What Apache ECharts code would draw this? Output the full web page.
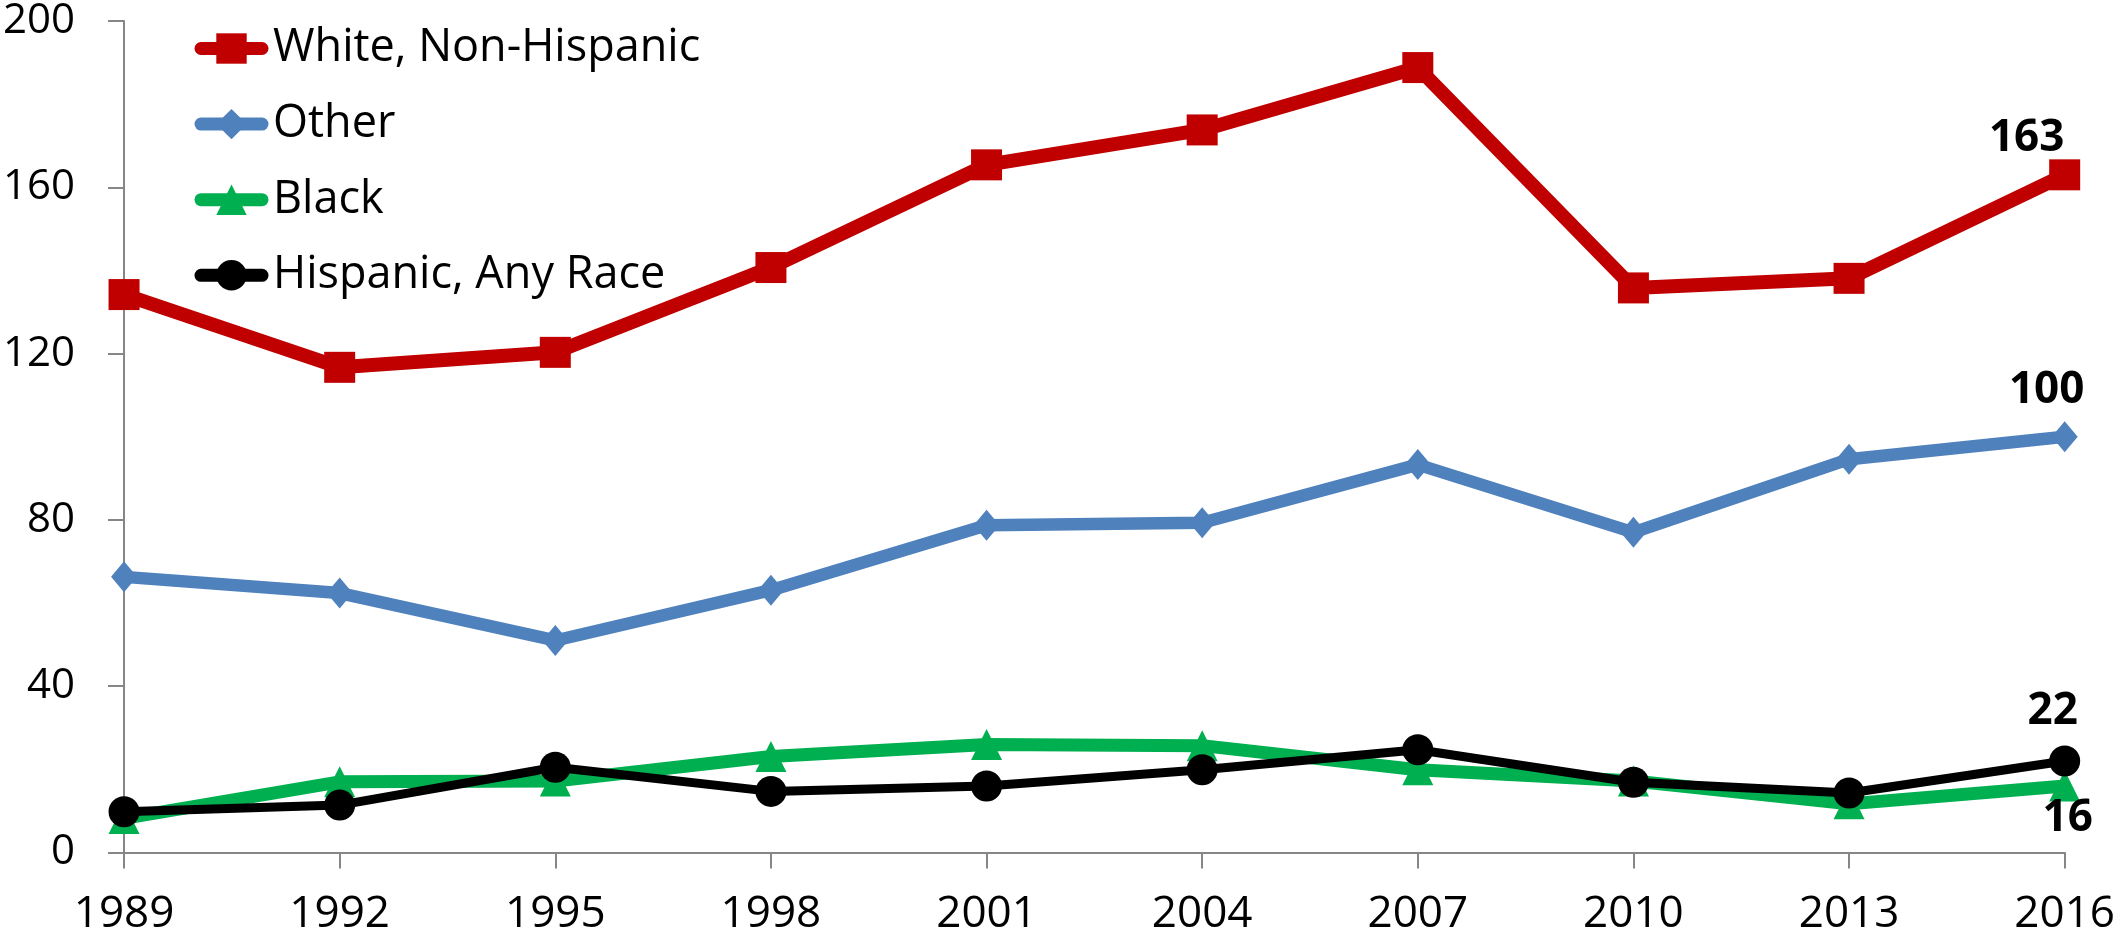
<!DOCTYPE html>
<html>
<head>
<meta charset="utf-8">
<script src="https://cdn.jsdelivr.net/npm/echarts@6/dist/echarts.min.js"></script>
<style>
  html, body { margin: 0; padding: 0; background: #fff; }
  #chart { width: 2118px; height: 942px; }
</style>
</head>
<body>
<div id="chart"></div>
<script>
// Survey years on the category axis
const years = ['1989', '1992', '1995', '1998', '2001', '2004', '2007', '2010', '2013', '2016'];

// Values per group
const whiteNonHispanic = [134.2, 116.7, 120.3, 140.7, 165.4, 173.8, 188.8, 135.8, 138.1, 163];
const other            = [66.3, 62.4, 51.0, 63.1, 78.7, 79.3, 93.3, 77.0, 94.6, 100];
const black            = [8.2, 17.0, 17.2, 23.1, 26.0, 25.7, 19.9, 17.2, 11.7, 16];
const hispanic         = [9.8, 11.4, 20.5, 14.7, 16.0, 19.9, 24.7, 16.9, 14.3, 22];

// Y axis range and step
const yMin = 0, yMax = 200, yStep = 40;

const FONT = '"Open Sans", "Noto Sans", sans-serif';

// Put a bold value label on the final point, shifted by [dx, dy]
function withEndLabel(values, offset) {
  return values.map((v, i) => {
    if (i !== values.length - 1) return v;
    return {
      value: v,
      label: {
        show: true,
        position: 'inside',
        offset: offset,
        formatter: '{c}',
        color: '#000',
        fontFamily: FONT,
        fontWeight: 'bold',
        fontSize: 44
      }
    };
  });
}

function lineSeries(name, values, color, width, symbol, size, z, offset) {
  return {
    name: name,
    type: 'line',
    z: z,
    data: withEndLabel(values, offset),
    symbol: symbol,
    symbolSize: size,
    showAllSymbol: true,
    lineStyle: { color: color, width: width, join: 'round', cap: 'round' },
    itemStyle: { color: color, borderWidth: 0 },
    emphasis: { disabled: true },
    animation: false
  };
}

const chart = echarts.init(document.getElementById('chart'), null, { renderer: 'canvas' });

chart.setOption({
  backgroundColor: '#ffffff',
  animation: false,
  grid: { left: 124, right: 53, top: 21, bottom: 89.5, containLabel: false },
  legend: {
    orient: 'vertical',
    left: 194.5,
    top: 26,
    padding: 0,
    itemWidth: 61,
    itemHeight: 38,
    itemGap: 30.6,
    selectedMode: false,
    lineStyle: { width: 13, cap: 'round' },
    textStyle: { fontFamily: FONT, fontSize: 45, color: '#000', padding: [0, 0, 0, 6] },
    data: ['White, Non-Hispanic', 'Other', 'Black', 'Hispanic, Any Race']
  },
  xAxis: {
    type: 'category',
    data: years,
    boundaryGap: false,
    axisLine: { lineStyle: { color: '#868686', width: 2 } },
    axisTick: { show: true, length: 16, alignWithLabel: true, lineStyle: { color: '#868686', width: 2 } },
    axisLabel: { fontFamily: FONT, fontSize: 44, color: '#000', margin: 40 },
    splitLine: { show: false }
  },
  yAxis: {
    type: 'value',
    min: yMin,
    max: yMax,
    interval: yStep,
    axisLine: { show: true, lineStyle: { color: '#868686', width: 2 } },
    axisTick: { show: true, length: 16, lineStyle: { color: '#868686', width: 2 } },
    axisLabel: { fontFamily: FONT, fontSize: 42, color: '#000', margin: 49 },
    splitLine: { show: false }
  },
  series: [
    lineSeries('White, Non-Hispanic', whiteNonHispanic, '#c00000', 14, 'rect', 31, 2, [-38, -36]),
    lineSeries('Other', other, '#4f81bd', 12.5, 'diamond', [26, 31], 3, [-18, -46]),
    lineSeries('Black', black, '#00b050', 13, 'triangle', 31, 4, [3, 32]),
    lineSeries('Hispanic, Any Race', hispanic, '#000000', 9, 'circle', 31, 5, [-12, -50])
  ]
});
</script>
</body>
</html>
